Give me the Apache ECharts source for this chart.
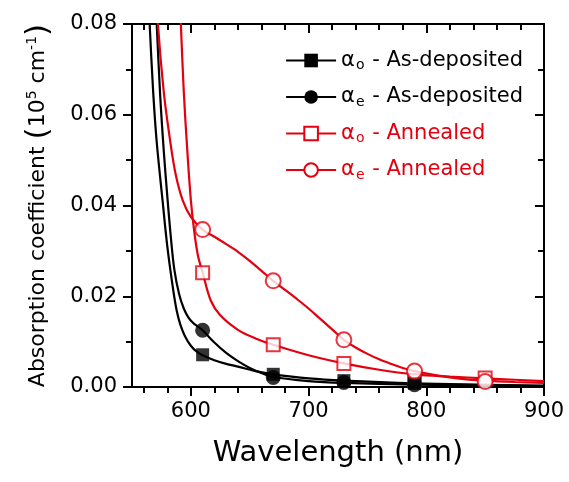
<!DOCTYPE html>
<html>
<head>
<meta charset="utf-8">
<script src="https://cdn.jsdelivr.net/npm/echarts@6/dist/echarts.min.js"></script>
<style>
  html, body { margin: 0; padding: 0; background: #ffffff; }
  #chart { width: 569px; height: 482px; }
</style>
</head>
<body>
<div id="chart"></div>
<script>
// Wavelengths (nm) of the measured points
const markWlAnn = [610, 670, 730, 790, 850];
const markWlDep = [610, 670, 730, 790];

// Measured absorption coefficients (10^5 cm^-1)
const aoDepMarks = [0.0071, 0.0028, 0.0014, 0.0008];
const aeDepMarks = [0.0125, 0.0021, 0.0010, 0.0005];
const aoAnnMarks = [0.0252, 0.0093, 0.0052, 0.0013, 0.0020];
const aeAnnMarks = [0.0347, 0.0234, 0.0104, 0.0035, 0.0012];

// Fitted curves: wavelength (nm) and absorption coefficient
const aoDepFitWl  = [563, 565, 568, 571, 576, 580, 585, 588, 591, 595, 600, 605, 610, 620, 630, 640, 655, 670, 700, 730, 790, 850, 900];
const aoDepFitVal = [0.092, 0.080, 0.065, 0.054, 0.041, 0.031, 0.0214, 0.0168, 0.0138, 0.0112, 0.0091, 0.0078, 0.0070, 0.0059, 0.0051, 0.0045, 0.0035, 0.0028, 0.0019, 0.0014, 0.0008, 0.0005, 0.0003];

const aeDepFitWl  = [569, 571, 574, 577, 580, 583, 586, 590, 594, 598, 602, 606, 610, 620, 630, 640, 650, 660, 670, 700, 730, 790, 850, 900];
const aeDepFitVal = [0.092, 0.080, 0.064, 0.052, 0.042, 0.033, 0.0258, 0.0205, 0.0173, 0.0153, 0.0141, 0.0133, 0.0125, 0.0098, 0.0075, 0.0057, 0.0042, 0.0031, 0.0022, 0.0013, 0.0009, 0.0005, 0.0003, 0.0002];

const aoAnnFitWl  = [589.5, 591.5, 594, 597, 600, 603, 606, 610, 617, 625, 640, 655, 670, 700, 730, 760, 790, 820, 850, 875, 900];
const aoAnnFitVal = [0.092, 0.080, 0.065, 0.052, 0.0412, 0.034, 0.029, 0.0252, 0.019, 0.0158, 0.0126, 0.0107, 0.0093, 0.0070, 0.0052, 0.0038, 0.0028, 0.0023, 0.0019, 0.0016, 0.0013];

const aeAnnFitWl  = [569, 572, 577, 582, 587, 593, 600, 610, 620, 630, 640, 650, 660, 670, 680, 690, 700, 710, 720, 730, 740, 750, 760, 770, 780, 790, 810, 830, 850, 875, 900];
const aeAnnFitVal = [0.095, 0.080, 0.065, 0.055, 0.047, 0.0412, 0.0375, 0.0347, 0.0331, 0.0315, 0.0298, 0.0278, 0.0256, 0.0234, 0.0214, 0.0194, 0.0173, 0.0150, 0.0127, 0.0104, 0.0087, 0.0073, 0.0061, 0.0051, 0.0042, 0.0035, 0.0025, 0.0018, 0.0014, 0.0011, 0.0009];

// Series names
const seriesNames = ['αo - As-deposited', 'αe - As-deposited', 'αo - Annealed', 'αe - Annealed'];

// Axis ticks
const xMajorTicks = [600, 700, 800, 900];
const xMinorTicks = [560, 580, 620, 640, 660, 680, 720, 740, 760, 780, 820, 840, 860, 880];

const FONT = 'DejaVu Sans';
const RED = '#e3000f';
const BLACK = '#000000';

function pairs(xs, ys) { return xs.map((x, i) => [x, ys[i]]); }

function fitSeries(name, xs, ys, color, symbol) {
  return {
    type: 'line', name: name, data: pairs(xs, ys),
    smooth: 0.35, showSymbol: false, symbol: symbol, symbolSize: 14,
    lineStyle: { color: color, width: 2.2 }, itemStyle: { color: color },
    silent: true, emphasis: { disabled: true }, z: 2
  };
}
function markSeries(name, xs, ys, color, symbol, size, hollow) {
  return {
    type: 'scatter', name: name, data: pairs(xs, ys),
    symbol: symbol, symbolSize: size,
    itemStyle: hollow ? { color: '#ffffff', borderColor: color, borderWidth: 2 } : { color: color },
    silent: true, emphasis: { disabled: true }, z: 3
  };
}

const bottomCommon = { type: 'value', min: 550, max: 900, gridIndex: 0 };
const leftCommon = { type: 'value', min: 0, max: 0.08, interval: 0.02, gridIndex: 0 };
const lineStyle2 = { color: BLACK, width: 2 };

const chart = echarts.init(document.getElementById('chart'), null, { renderer: 'canvas' });
chart.setOption({
  animation: false,
  backgroundColor: '#ffffff',
  grid: { left: 132, right: 25, top: 24, bottom: 95, containLabel: false, outerBoundsMode: 'none' },
  legend: {
    data: seriesNames,
    orient: 'vertical', left: 280, top: 45,
    itemWidth: 50, itemHeight: 17, itemGap: 14,
    selectedMode: false,
    lineStyle: { width: 2.2 },
    textStyle: {
      fontFamily: FONT, fontSize: 21,
      rich: {
        k: { fontFamily: FONT, fontSize: 21, color: BLACK },
        ks: { fontFamily: FONT, fontSize: 14, color: BLACK, padding: [10, 1, 0, 1] },
        r: { fontFamily: FONT, fontSize: 21, color: RED },
        rs: { fontFamily: FONT, fontSize: 14, color: RED, padding: [10, 1, 0, 1] }
      }
    },
    formatter: function (name) {
      const t = name.indexOf('Annealed') >= 0 ? 'r' : 'k';
      return '{' + t + '|' + name.charAt(0) + '}{' + t + 's|' + name.charAt(1) + '}{' + t + '|' + name.slice(2) + '}';
    }
  },
  xAxis: [
    Object.assign({}, bottomCommon, {
      position: 'bottom',
      name: 'Wavelength (nm)', nameLocation: 'middle', nameGap: 52,
      nameTextStyle: { fontFamily: FONT, fontSize: 29, color: BLACK },
      axisLine: { show: true, onZero: false, lineStyle: lineStyle2 },
      axisTick: { show: true, inside: false, length: 9, lineStyle: lineStyle2, customValues: xMajorTicks },
      axisLabel: { show: true, margin: 14, fontFamily: FONT, fontSize: 21, color: BLACK, customValues: xMajorTicks },
      splitLine: { show: false }
    }),
    Object.assign({}, bottomCommon, {
      position: 'bottom',
      axisLine: { show: false, onZero: false },
      axisTick: { show: true, inside: false, length: 6, lineStyle: lineStyle2, customValues: xMinorTicks },
      axisLabel: { show: false },
      splitLine: { show: false }
    }),
    Object.assign({}, bottomCommon, {
      position: 'top',
      axisLine: { show: true, onZero: false, lineStyle: lineStyle2 },
      axisTick: { show: true, inside: true, length: 9, lineStyle: lineStyle2, customValues: xMajorTicks },
      axisLabel: { show: false },
      splitLine: { show: false }
    }),
    Object.assign({}, bottomCommon, {
      position: 'top',
      axisLine: { show: false, onZero: false },
      axisTick: { show: true, inside: true, length: 6, lineStyle: lineStyle2, customValues: xMinorTicks },
      axisLabel: { show: false },
      splitLine: { show: false }
    })
  ],
  yAxis: [
    Object.assign({}, leftCommon, {
      position: 'left',
      name: 'Absorption coefficient {p|(}10{sup|5} cm{sup|-1}{p|)}',
      nameLocation: 'middle', nameGap: 78,
      nameTextStyle: {
        fontFamily: FONT, fontSize: 22, color: BLACK,
        rich: {
          p: { fontFamily: FONT, fontSize: 31, color: BLACK },
          sup: { fontFamily: FONT, fontSize: 14, color: BLACK, padding: [0, 0, 12, 0] }
        }
      },
      axisLine: { show: true, onZero: false, lineStyle: lineStyle2 },
      axisTick: { show: true, inside: false, length: 9, lineStyle: lineStyle2 },
      minorTick: { show: true, splitNumber: 2, length: 6, lineStyle: lineStyle2 },
      axisLabel: { show: true, margin: 15, fontFamily: FONT, fontSize: 21, color: BLACK,
                   formatter: v => v.toFixed(2) },
      splitLine: { show: false }, minorSplitLine: { show: false }
    }),
    Object.assign({}, leftCommon, {
      position: 'right',
      axisLine: { show: true, onZero: false, lineStyle: lineStyle2 },
      axisTick: { show: true, inside: true, length: 9, lineStyle: lineStyle2 },
      minorTick: { show: true, splitNumber: 2, length: 6, lineStyle: lineStyle2 },
      axisLabel: { show: false },
      splitLine: { show: false }, minorSplitLine: { show: false }
    })
  ],
  series: [
    fitSeries(seriesNames[0], aoDepFitWl, aoDepFitVal, BLACK, 'rect'),
    fitSeries(seriesNames[1], aeDepFitWl, aeDepFitVal, BLACK, 'circle'),
    fitSeries(seriesNames[2], aoAnnFitWl, aoAnnFitVal, RED, 'emptyRect'),
    fitSeries(seriesNames[3], aeAnnFitWl, aeAnnFitVal, RED, 'emptyCircle'),
    markSeries(seriesNames[2], markWlAnn, aoAnnMarks, RED, 'rect', 13, true),
    markSeries(seriesNames[0], markWlDep, aoDepMarks, BLACK, 'rect', 13, false),
    markSeries(seriesNames[1], markWlDep, aeDepMarks, BLACK, 'circle', 15, false),
    markSeries(seriesNames[3], markWlAnn, aeAnnMarks, RED, 'circle', 15, true)
  ]
});
</script>
</body>
</html>
